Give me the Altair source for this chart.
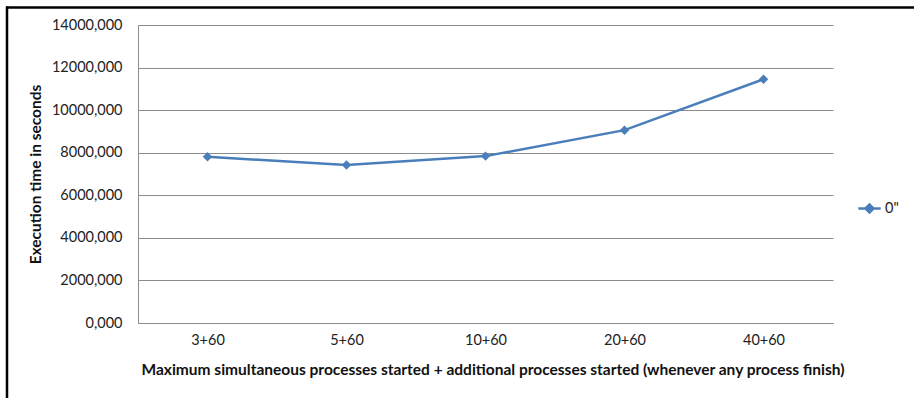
import altair as alt
import pandas as pd

# Execution time per configuration
configs = ["3+60", "5+60", "10+60", "20+60", "40+60"]
exec_times = [7810, 7420, 7840, 9060, 11450]
series_name = '0"'

df = pd.DataFrame({"config": configs, "time": exec_times, "series": [series_name] * len(configs)})

FONT = "Lato"
BLUE = "#4A7EBB"
GRID = "#8C8C8C"

y_ticks = [0, 2000, 4000, 6000, 8000, 10000, 12000, 14000]

x_enc = alt.X(
    "config:N",
    sort=configs,
    scale=alt.Scale(paddingOuter=0.5, paddingInner=0),
    axis=alt.Axis(
        title="Maximum simultaneous processes started + additional processes started (whenever any process finish)",
        labelAngle=0,
        labelFont=FONT,
        labelFontSize=14.5,
        labelColor="#222222",
        labelPadding=10,
        titleFont=FONT,
        titleFontSize=15.5,
        titleFontWeight="bold",
        titleColor="#111111",
        titlePadding=16,
        titleX=354.5,
        titleAlign="center",
        ticks=False,
        domainColor=GRID,
        grid=False,
    ),
)

y_enc = alt.Y(
    "time:Q",
    scale=alt.Scale(domain=[0, 14000], nice=False),
    axis=alt.Axis(
        title="Execution time in seconds",
        values=y_ticks,
        labelExpr="replace(format(datum.value, '.3f'), '.', ',')",
        labelFont=FONT,
        labelFontSize=14.5,
        labelColor="#222222",
        labelPadding=16,
        titleFont=FONT,
        titleFontSize=15.5,
        titleFontWeight="bold",
        titleColor="#111111",
        titlePadding=8,
        ticks=False,
        domainColor=GRID,
        gridColor=GRID,
        gridWidth=1,
    ),
)

color_enc = alt.Color(
    "series:N",
    scale=alt.Scale(range=[BLUE]),
    legend=alt.Legend(
        title=None,
        orient="none",
        legendX=719,
        legendY=171,
        symbolType="M-1,0L1,0M-0.36,0L0,-0.36L0.36,0L0,0.36Z",
        symbolSize=500,
        symbolStrokeWidth=2.5,
        symbolFillColor=BLUE,
        symbolStrokeColor=BLUE,
        labelFont=FONT,
        labelFontSize=14.5,
        labelColor="#222222",
        labelOffset=3,
        padding=0,
    ),
)

line = alt.Chart(df).mark_line(strokeWidth=2.5).encode(x=x_enc, y=y_enc, color=color_enc)
points = alt.Chart(df).mark_point(shape="diamond", filled=True, size=90, opacity=1).encode(
    x=x_enc, y=y_enc, color=alt.Color("series:N", scale=alt.Scale(range=[BLUE]), legend=None)
)

# Thick frame lines along the top and left edges of the figure
frame = alt.Chart(pd.DataFrame({"k": [0]}))
top_edge = frame.mark_rule(color="black", strokeWidth=2.5).encode(
    x=alt.value(-132), x2=alt.value(800), y=alt.value(-17.5)
)
left_edge = frame.mark_rule(color="black", strokeWidth=2.5).encode(
    x=alt.value(-131), y=alt.value(-18.5), y2=alt.value(400)
)

chart = (
    alt.layer(line, points, top_edge, left_edge)
    .properties(
        width=695,
        height=298,
        autosize=alt.AutoSizeParams(type="none"),
        padding={"left": 138, "top": 25, "right": 81, "bottom": 75},
        background="white",
    )
    .configure_view(stroke=None)
)

chart.save("out.html", embed_options={"renderer": "svg", "actions": False})
